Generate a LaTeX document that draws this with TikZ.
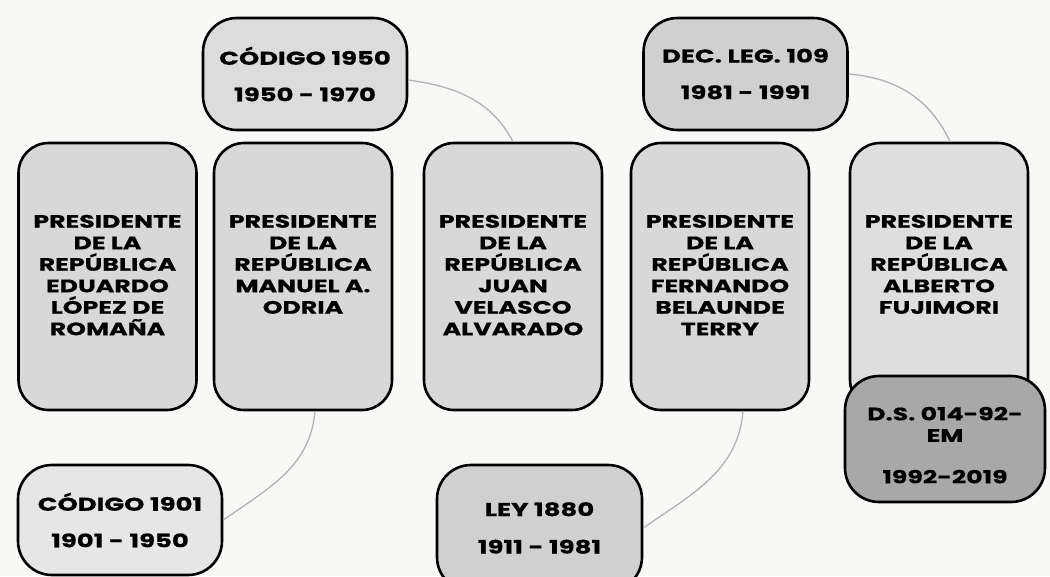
\documentclass[tikz,border=0pt]{standalone}
\usepackage{fontspec}
\setmainfont{Poppins}[FakeStretch=1.4, BoldFeatures={FakeBold=0.5}]
\usetikzlibrary{positioning}
\definecolor{pagegray}{HTML}{F8F8F7}
\definecolor{presgray}{HTML}{D8D8D8}
\definecolor{lawgray}{HTML}{D0D0D0}
\definecolor{lightlaw}{HTML}{E6E6E6}
\definecolor{darklaw}{HTML}{A8A8A8}
\tikzset{
  presbox/.style={draw=black, line width=2.6pt, fill=presgray, rounded corners=30pt,
    minimum width=178pt, minimum height=267pt}, % tall boxes of the presidents
  prestext/.style={align=center, inner sep=0pt,
    font=\bfseries\fontsize{18}{21.5}\selectfont}, % names, set from the top
  lawbox/.style={draw=black, line width=2.6pt, fill=lawgray, rounded corners=34pt,
    minimum width=204pt, minimum height=112pt, align=center,
    font=\bfseries\fontsize{18.5}{21.5}\selectfont}, % the laws and their years
  link/.style={draw=black!30, line width=1.3pt}, % grey curves
}
\begin{document}
\begin{tikzpicture}[x=1pt, y=-1pt]
\fill[pagegray] (0,0) rectangle (1050,576);
\useasboundingbox (0,0) rectangle (1050,576);

% presidents
\node[presbox] (p1) at (107.5,276.5) {};
\node[presbox] (p2) at (303,276.5) {};
\node[presbox] (p3) at (513,276.5) {};
\node[presbox] (p4) at (720,276.5) {};
\node[presbox, fill=presgray!85!white] (p5) at (939,276.5) {};
\node[prestext, below=73pt of p1.north] (t1) {PRESIDENTE\\DE LA\\REPÚBLICA\\EDUARDO\\LÓPEZ DE\\ROMAÑA};
\node[prestext, below=73pt of p2.north] (t2) {PRESIDENTE\\DE LA\\REPÚBLICA\\MANUEL A.\\ODRIA};
\node[prestext, below=73pt of p3.north] (t3) {PRESIDENTE\\DE LA\\REPÚBLICA\\JUAN\\VELASCO\\ALVARADO};
\node[prestext, below=73pt of p4.north] (t4) {PRESIDENTE\\DE LA\\REPÚBLICA\\FERNANDO\\BELAUNDE\\TERRY};
\node[prestext, below=73pt of p5.north] (t5) {PRESIDENTE\\DE LA\\REPÚBLICA\\ALBERTO\\FUJIMORI};

% laws
\node[lawbox, fill=presgray!90!white] (c1950) at (305,74) {CÓDIGO 1950\\[15pt]1950 - 1970};
\node[lawbox] (d109) at (745.5,74) {DEC. LEG. 109\\[15pt]1981 - 1991};
\node[lawbox, fill=lightlaw, minimum height=110pt] (c1901) at (120,520) {CÓDIGO 1901\\[15pt]1901 - 1950};
\node[lawbox, minimum width=205pt, minimum height=126pt] (l1880) at (539.5,528) {LEY 1880\\[16pt]1911 - 1981};
\node[lawbox, fill=darklaw, minimum width=200pt, minimum height=126pt] (ds) at (945,439) {};
\node[prestext, below=32pt of ds.north] (dst) {D.S. 014-92-\\EM\\[20pt]1992-2019};

\draw[link] (c1950.east) ++(0,6) to[out=-8, in=118] (p3.north);
\draw[link] (d109.east) to[out=-5, in=115] ([xshift=11pt]p5.north);
\draw[link] ([xshift=12pt]p2.south) to[out=-95, in=35] (c1901.east);
\draw[link] ([xshift=23pt]p4.south) to[out=-95, in=35] (l1880.east);
\end{tikzpicture}
\end{document}
